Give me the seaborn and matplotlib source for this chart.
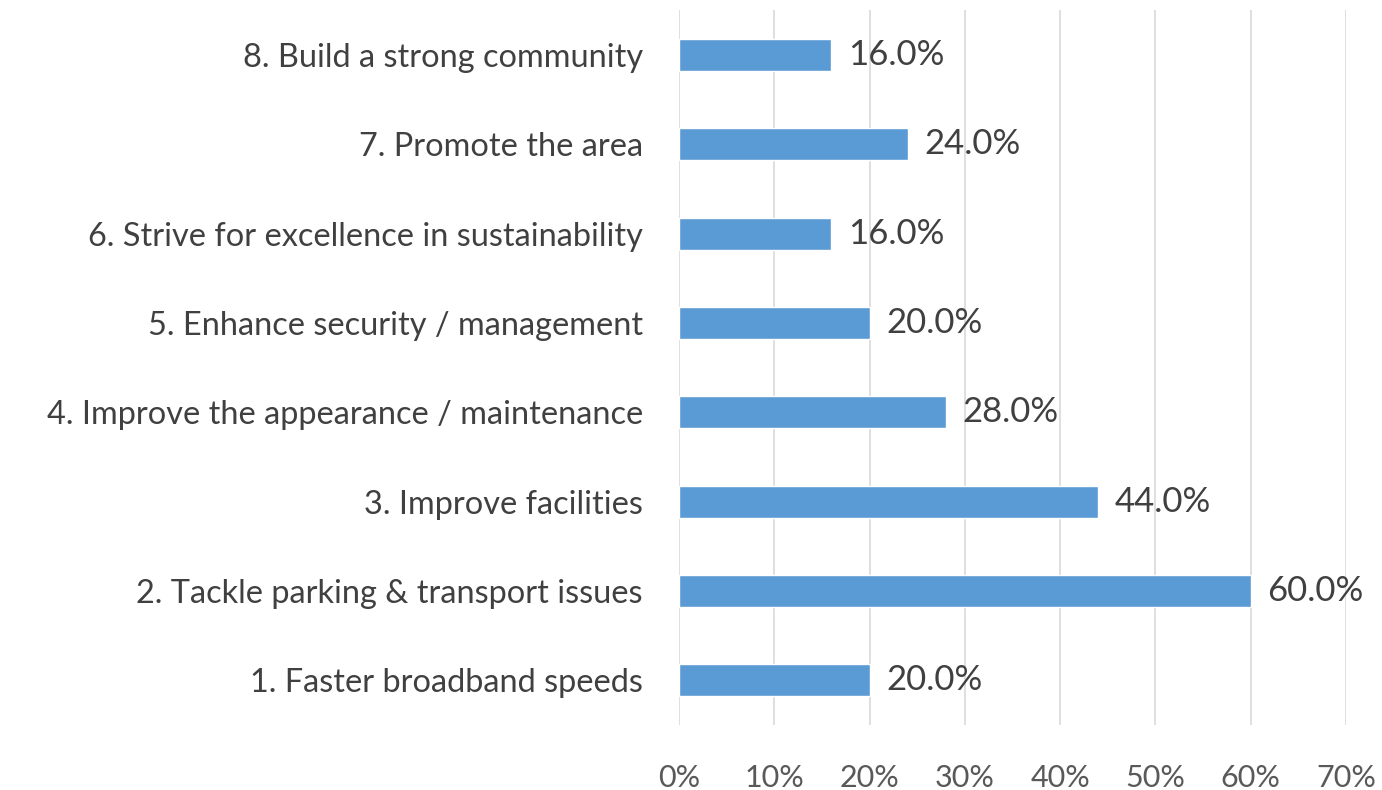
import matplotlib
matplotlib.use("Agg")
import matplotlib.pyplot as plt
import seaborn as sns
import pandas as pd
from matplotlib.ticker import FuncFormatter

categories = [
    "8. Build a strong community",
    "7. Promote the area",
    "6. Strive for excellence in sustainability",
    "5. Enhance security / management",
    "4. Improve the appearance / maintenance",
    "3. Improve facilities",
    "2. Tackle parking & transport issues",
    "1. Faster broadband speeds",
]
values = [16.0, 24.0, 16.0, 20.0, 28.0, 44.0, 60.0, 20.0]
xticks = [0, 10, 20, 30, 40, 50, 60, 70]

sns.set_theme(style="white")
plt.rcParams['font.family'] = ['Lato', 'DejaVu Sans']

df = pd.DataFrame({"cat": categories, "val": values})

fig = plt.figure(figsize=(13.82, 7.90), dpi=100)
ax = fig.add_axes([0.4913, 0.0823, 0.974 - 0.4913, 0.987 - 0.0823])

sns.barplot(data=df, y="cat", x="val", orient="h", color="#5B9BD5",
            saturation=1, width=0.36, ax=ax, order=categories)

ax.set_xlim(0, 70)
ax.set_xticks(xticks)
ax.xaxis.set_major_formatter(FuncFormatter(lambda v, p: f"{v:.0f}%"))
ax.grid(axis="x", color="#D9D9D9", linewidth=1.2)
ax.set_axisbelow(True)
for s in ax.spines.values():
    s.set_visible(False)
ax.set_xlabel("")
ax.set_ylabel("")
ax.tick_params(axis="x", colors="#595959", labelsize=22, length=0, pad=28)
ax.tick_params(axis="y", colors="#404040", labelsize=23.4, length=0, pad=26)
for lab in ax.get_yticklabels():
    lab.set_color("#404040")

for cont in ax.containers:
    ax.bar_label(cont, labels=[f"{v:.1f}%" for v in values], padding=12,
                 fontsize=25, color="#404040")

fig.savefig("out.png", dpi=100)
